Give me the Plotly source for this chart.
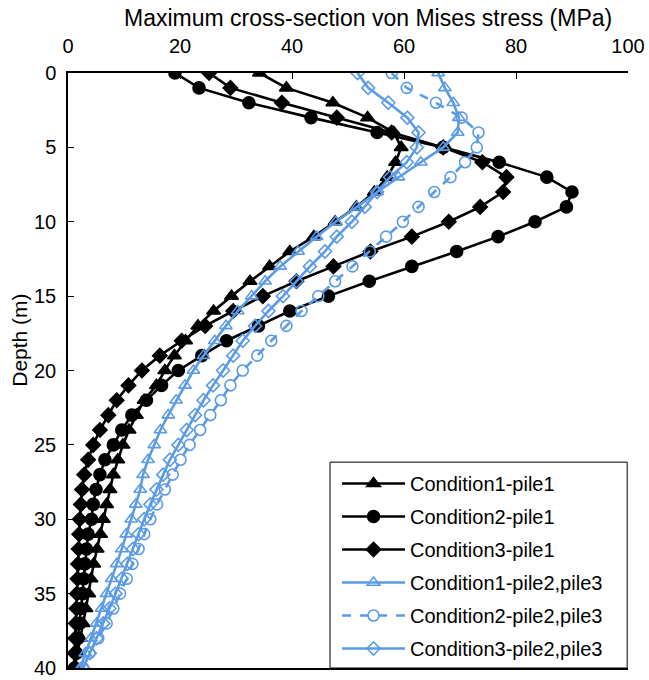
import plotly.graph_objects as go

# Depth below pile head (m)
depth = list(range(41))

# Maximum cross-section von Mises stress (MPa) at each depth
c1_pile1 = [34.2, 39.0, 47.3, 53.5, 58.2, 59.5, 58.5, 57.0, 54.7, 51.5, 47.7, 43.9, 39.6,
            36.0, 32.5, 29.2, 26.0, 23.2, 21.0, 19.0, 17.3, 15.8, 13.6, 12.2, 10.9, 9.8,
            8.9, 8.1, 7.5, 6.9, 6.3, 5.8, 5.2, 4.6, 4.1, 3.7, 3.2, 2.7, 2.2, 1.7, 1.2]
c2_pile1 = [19.1, 23.4, 32.3, 43.4, 55.2, 67.0, 77.0, 85.5, 90.0, 89.0, 83.4, 76.8, 69.4,
            61.4, 53.8, 46.5, 39.6, 34.0, 28.3, 23.9, 19.7, 16.7, 14.0, 11.4, 9.6, 8.1,
            6.6, 5.7, 5.0, 4.5, 4.2, 3.6, 3.3, 3.0, 2.8, 2.6, 2.3, 2.1, 1.8, 1.5, 1.2]
c3_pile1 = [25.2, 29.0, 38.2, 48.0, 57.8, 67.0, 74.0, 78.3, 77.7, 73.6, 68.0, 61.4, 54.0,
            47.4, 40.8, 34.8, 29.5, 24.5, 20.3, 16.4, 13.2, 10.8, 8.7, 7.2, 5.7, 4.5,
            3.6, 2.9, 2.5, 2.3, 2.1, 2.0, 1.9, 1.8, 1.7, 1.6, 1.5, 1.4, 1.3, 1.2, 1.1]
c1_pile23 = [66.1, 67.3, 68.8, 69.8, 69.6, 67.0, 63.0, 59.0, 55.2, 51.6, 47.8, 44.4, 41.1,
             37.9, 35.2, 32.8, 30.3, 28.2, 26.2, 24.2, 22.4, 20.9, 19.3, 17.9, 16.5, 15.4,
             14.3, 13.4, 12.9, 12.1, 11.3, 10.4, 9.6, 8.7, 7.8, 6.9, 6.0, 5.1, 4.1, 3.1, 2.2]
c2_pile23 = [57.8, 60.5, 65.7, 70.3, 73.3, 73.0, 70.9, 68.3, 65.4, 62.6, 59.8, 56.8, 53.9,
             50.8, 47.7, 44.7, 41.7, 39.0, 36.3, 33.8, 31.2, 29.0, 27.3, 25.4, 23.6, 21.7,
             20.1, 18.7, 17.3, 15.9, 14.7, 13.6, 12.6, 11.5, 10.5, 9.3, 8.1, 6.9, 5.4, 3.8, 2.7]
c3_pile23 = [51.7, 53.6, 57.2, 60.6, 62.6, 62.3, 60.5, 57.5, 55.2, 53.0, 50.7, 48.0, 45.9,
             43.2, 40.8, 38.4, 35.8, 33.4, 31.2, 29.5, 27.7, 25.9, 24.2, 22.7, 21.2, 19.7,
             18.2, 17.0, 15.8, 14.7, 13.6, 12.6, 11.6, 10.6, 9.6, 8.5, 7.4, 6.3, 5.1, 3.9, 2.7]

names = ["Condition1-pile1", "Condition2-pile1", "Condition3-pile1",
         "Condition1-pile2,pile3", "Condition2-pile2,pile3", "Condition3-pile2,pile3"]

BLACK = "#000000"
BLUE = "#5B9BE6"

series = [
    (c1_pile1, BLACK, "solid", "triangle-up", 12),
    (c2_pile1, BLACK, "solid", "circle", 12),
    (c3_pile1, BLACK, "solid", "diamond", 11),
    (c1_pile23, BLUE, "solid", "triangle-up-open", 11),
    (c2_pile23, BLUE, "dash", "circle-open", 11),
    (c3_pile23, BLUE, "solid", "diamond-open", 10),
]

fig = go.Figure()
for i, (name, (vals, color, dash, symbol, size)) in enumerate(zip(names, series)):
    fig.add_trace(go.Scatter(
        x=vals, y=depth, name=name, mode="lines+markers",
        legendgroup=f"g{i}",
        line=dict(color=color, width=2.6, dash=dash),
        marker=dict(symbol=symbol, size=size, color=color,
                    line=dict(color=color, width=1.6)),
    ))

font_family = "Liberation Sans, Arial, sans-serif"

fig.update_layout(
    width=649, height=680,
    margin=dict(l=68, r=21, t=73, b=12),
    paper_bgcolor="white", plot_bgcolor="white",
    font=dict(family=font_family, size=20, color="black"),
    showlegend=True,
    legend=dict(
        x=0.4804, xanchor="left", y=0.0, yanchor="bottom",
        bgcolor="rgba(0,0,0,0)", borderwidth=0,
        font=dict(size=20), itemwidth=63, tracegroupgap=4,
    ),
    xaxis=dict(
        side="top", range=[0, 100], dtick=20,
        showgrid=False, zeroline=False, automargin=False,
        showline=True, linecolor="black", linewidth=1.5, mirror=True,
        ticks="inside", ticklen=6, tickcolor="black",
        tickfont=dict(size=20), ticklabelstandoff=10,
    ),
    yaxis=dict(
        range=[40, 0], dtick=5,
        showgrid=False, zeroline=False, automargin=False,
        showline=True, linecolor="black", linewidth=1.5,
        ticks="inside", ticklen=6, tickcolor="black",
        tickfont=dict(size=20), ticklabelstandoff=6,
    ),
    # frame around the legend
    shapes=[
        dict(type="rect", xref="paper", yref="paper",
             x0=0.4679, x1=0.9985, y0=0.0, y1=0.346,
             line=dict(color="black", width=1), fillcolor="rgba(0,0,0,0)",
             layer="above"),
    ],
    annotations=[
        dict(text="Maximum cross-section von Mises stress (MPa)",
             xref="paper", yref="paper", x=0.535, y=1.0, yshift=55,
             xanchor="center", yanchor="middle", showarrow=False,
             font=dict(size=23)),
        dict(text="Depth (m)", textangle=-90,
             xref="paper", yref="paper", x=0.0, xshift=-48, y=0.55,
             xanchor="center", yanchor="middle", showarrow=False,
             font=dict(size=21)),
    ],
)

fig.write_html("out.html")
